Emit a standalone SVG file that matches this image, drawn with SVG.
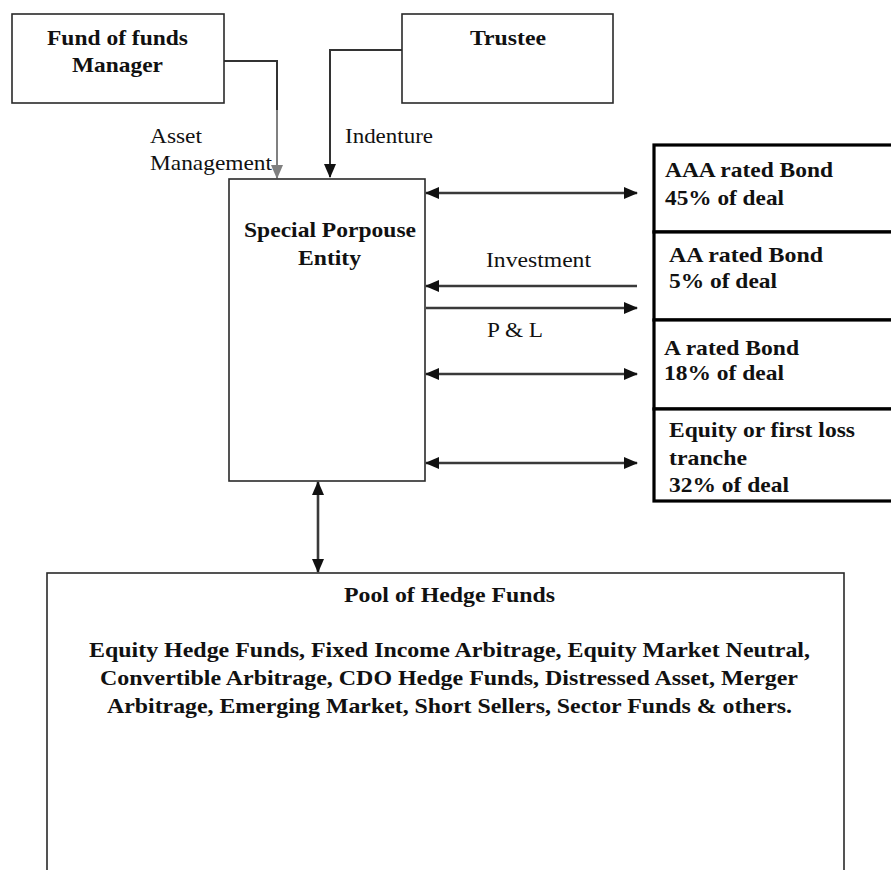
<svg xmlns="http://www.w3.org/2000/svg" width="891" height="870" viewBox="0 0 891 870">
<style>
  .box { fill: #fff; stroke: #2a2a2a; stroke-width: 1.6; }
  .tranche { fill: #fff; stroke: #000; stroke-width: 3.2; }
  .b { font-family: "Liberation Serif", "Times New Roman", serif; font-weight: bold; font-size: 21px; fill: #111; }
  .r { font-family: "Liberation Serif", "Times New Roman", serif; font-size: 21px; fill: #111; }
  .line { fill: none; stroke: #333; stroke-width: 2; }
  .hline { fill: none; stroke: #3a3a3a; stroke-width: 2.6; }
  .gray { fill: none; stroke: #808080; stroke-width: 2; }
</style>
<defs>
  <marker id="ah" markerUnits="userSpaceOnUse" markerWidth="14" markerHeight="12" refX="13" refY="6" orient="auto-start-reverse" viewBox="0 0 14 12">
    <path d="M0,0 L14,6 L0,12 Z" fill="#111"/>
  </marker>
  <marker id="ahg" markerUnits="userSpaceOnUse" markerWidth="14" markerHeight="12" refX="13" refY="6" orient="auto" viewBox="0 0 14 12">
    <path d="M0,0 L14,6 L0,12 Z" fill="#808080"/>
  </marker>
</defs>
<rect width="891" height="870" fill="#fff"/>

<g id="connectors">
  <path class="line" d="M224,61 H277 V110"/>
  <path class="gray" d="M277,110 V178" marker-end="url(#ahg)"/>
  <path class="line" d="M402,50 H330 V177" marker-end="url(#ah)"/>
  <path class="hline" d="M426,193 H637" marker-start="url(#ah)" marker-end="url(#ah)"/>
  <path class="hline" d="M637,286 H426" marker-end="url(#ah)"/>
  <path class="hline" d="M426,308 H637" marker-end="url(#ah)"/>
  <path class="hline" d="M426,374 H637" marker-start="url(#ah)" marker-end="url(#ah)"/>
  <path class="hline" d="M426,463 H637" marker-start="url(#ah)" marker-end="url(#ah)"/>
  <path class="hline" d="M318,482 V572" marker-start="url(#ah)" marker-end="url(#ah)"/>
</g>

<g id="label-asset">
  <text class="r" x="150" y="143" textLength="52" lengthAdjust="spacingAndGlyphs">Asset</text>
  <text class="r" x="150" y="170" textLength="122" lengthAdjust="spacingAndGlyphs">Management</text>
</g>
<g id="label-indenture">
  <text class="r" x="345" y="143" textLength="88" lengthAdjust="spacingAndGlyphs">Indenture</text>
</g>
<g id="label-investment">
  <text class="r" x="486" y="267" textLength="105" lengthAdjust="spacingAndGlyphs">Investment</text>
</g>
<g id="label-pl">
  <text class="r" x="487" y="337" textLength="56" lengthAdjust="spacingAndGlyphs">P &amp; L</text>
</g>

<g id="manager">
  <rect class="box" x="12" y="14" width="212" height="89"/>
  <text class="b" x="47" y="45" textLength="141" lengthAdjust="spacingAndGlyphs">Fund of funds</text>
  <text class="b" x="72" y="72" textLength="91" lengthAdjust="spacingAndGlyphs">Manager</text>
</g>

<g id="trustee">
  <rect class="box" x="402" y="14" width="211" height="89"/>
  <text class="b" x="470" y="45" textLength="76" lengthAdjust="spacingAndGlyphs">Trustee</text>
</g>

<g id="spe">
  <rect class="box" x="229" y="179" width="196" height="302"/>
  <text class="b" x="244" y="237" textLength="172" lengthAdjust="spacingAndGlyphs">Special Porpouse</text>
  <text class="b" x="298" y="265" textLength="63" lengthAdjust="spacingAndGlyphs">Entity</text>
</g>

<g id="aaa">
  <rect class="tranche" x="654" y="145" width="250" height="87"/>
  <text class="b" x="665" y="177" textLength="168" lengthAdjust="spacingAndGlyphs">AAA rated Bond</text>
  <text class="b" x="665" y="205" textLength="119" lengthAdjust="spacingAndGlyphs">45% of deal</text>
</g>
<g id="aa">
  <rect class="tranche" x="654" y="232" width="250" height="88"/>
  <text class="b" x="669" y="262" textLength="154" lengthAdjust="spacingAndGlyphs">AA rated Bond</text>
  <text class="b" x="669" y="288" textLength="108" lengthAdjust="spacingAndGlyphs">5% of deal</text>
</g>
<g id="a">
  <rect class="tranche" x="654" y="320" width="250" height="89"/>
  <text class="b" x="664" y="355" textLength="135" lengthAdjust="spacingAndGlyphs">A rated Bond</text>
  <text class="b" x="664" y="380" textLength="120" lengthAdjust="spacingAndGlyphs">18% of deal</text>
</g>
<g id="equity">
  <rect class="tranche" x="654" y="409" width="250" height="92"/>
  <text class="b" x="669" y="437" textLength="186" lengthAdjust="spacingAndGlyphs">Equity or first loss</text>
  <text class="b" x="669" y="465" textLength="78" lengthAdjust="spacingAndGlyphs">tranche</text>
  <text class="b" x="669" y="492" textLength="120" lengthAdjust="spacingAndGlyphs">32% of deal</text>
</g>

<g id="pool">
  <rect class="box" x="47" y="573" width="797" height="320"/>
  <text class="b" x="344" y="602" textLength="211" lengthAdjust="spacingAndGlyphs">Pool of Hedge Funds</text>
  <text class="b" x="89" y="657" textLength="721" lengthAdjust="spacingAndGlyphs">Equity Hedge Funds, Fixed Income Arbitrage, Equity Market Neutral,</text>
  <text class="b" x="100" y="685" textLength="698" lengthAdjust="spacingAndGlyphs">Convertible Arbitrage, CDO Hedge Funds, Distressed Asset, Merger</text>
  <text class="b" x="107" y="713" textLength="685" lengthAdjust="spacingAndGlyphs">Arbitrage, Emerging Market, Short Sellers, Sector Funds &amp; others.</text>
</g>
</svg>
